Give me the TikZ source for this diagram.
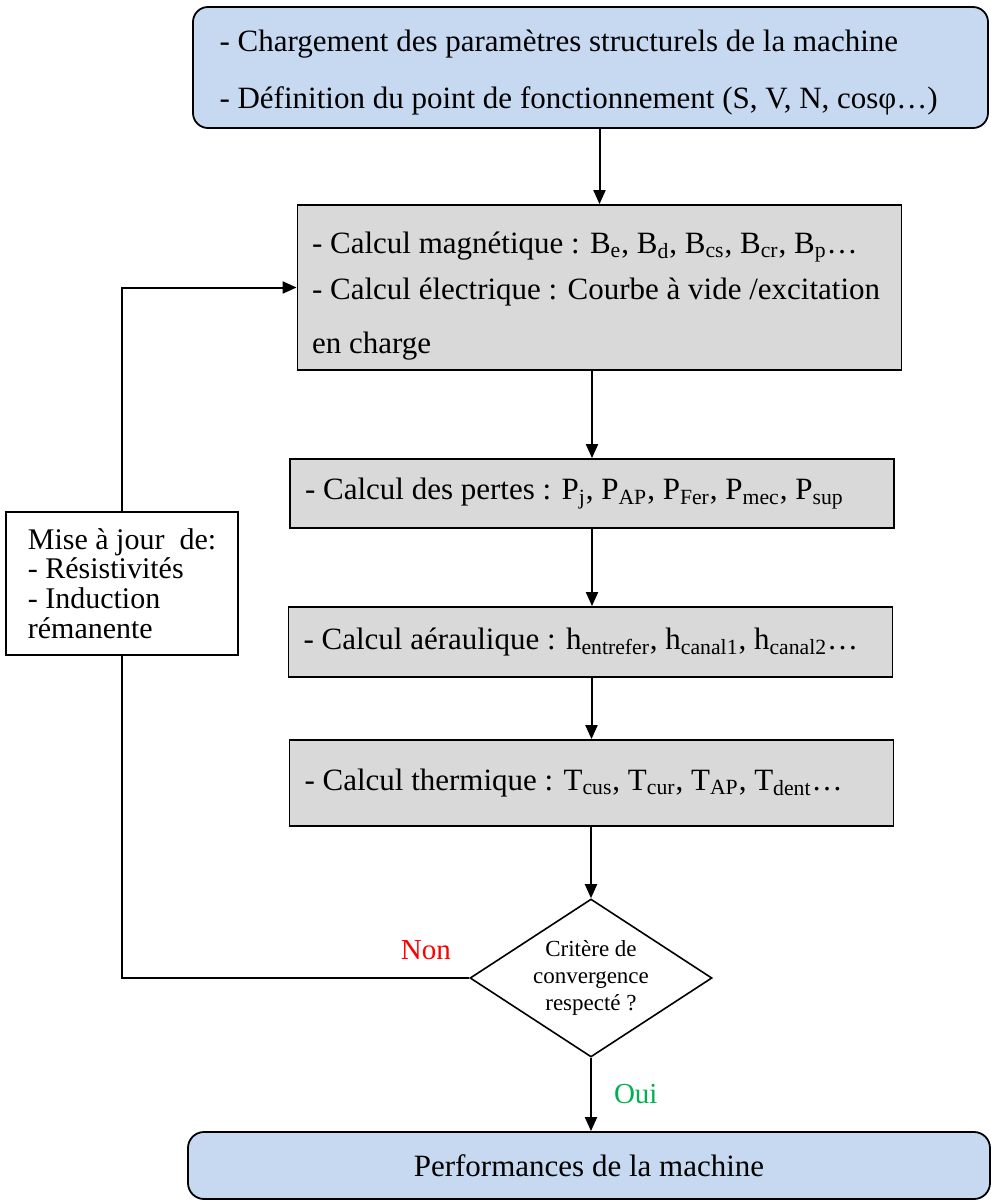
\documentclass[tikz,border=0pt]{standalone}
\usepackage{fontspec}
\setmainfont{Liberation Serif}
\usepackage{tikz}
\usetikzlibrary{arrows.meta, positioning, shapes.geometric}
\definecolor{boxblue}{RGB}{198, 217, 241}
\definecolor{boxgray}{RGB}{217, 217, 217}
\definecolor{nonred}{RGB}{255, 0, 0}
\definecolor{ouigreen}{RGB}{0, 176, 80}

\begin{document}
\begin{tikzpicture}[x=0.5pt, y=-0.5pt,
  calcbox/.style={draw, line width=0.9pt, fill=boxgray, minimum width=302pt,
    inner xsep=7.5pt, text width=287pt, align=flush left,
    font=\fontsize{15.5}{18.5}\selectfont},
  endbox/.style={draw, line width=0.9pt, fill=boxblue, rounded corners=8pt,
    font=\fontsize{15.5}{18.5}\selectfont},
  boxtext/.style={anchor=north west, inner sep=0pt, align=left,
    font=\fontsize{15.5}{18.5}\selectfont},
  flow/.style={-{Triangle[length=7pt, width=6pt]}, line width=1pt},
  loopline/.style={line width=1pt}]
  \useasboundingbox (0,0) rectangle (991,1201);

  % blocs
  \node[endbox, rounded corners=7.5pt, minimum width=397.5pt, minimum height=60.5pt]
    (init) at (590.5,67.5) {};
  \node[boxtext] (inittxt) at ([xshift=13.5pt, yshift=-11.5pt]init.north west)
    {- Chargement des paramètres structurels de la machine\\[10pt]
      - Définition du point de fonctionnement (S, V, N, cosφ…)};
  \node[calcbox, minimum height=82.5pt] (mag) at (599.5,287.5) {};
  \node[boxtext] (magtxt) at ([xshift=7.5pt, yshift=-13.5pt]mag.north west)
    {- Calcul magnétique : B\textsubscript{e}, B\textsubscript{d}, B\textsubscript{cs},
      B\textsubscript{cr}, B\textsubscript{p}…\\[4.5pt]
      - Calcul électrique : Courbe à vide /excitation\\[8.5pt]
      en charge};
  \node[calcbox, minimum height=34.5pt] (pertes) at (592,493.5)
    {- Calcul des pertes : P\textsubscript{j}, P\textsubscript{AP}, P\textsubscript{Fer},
      P\textsubscript{mec}, P\textsubscript{sup}};
  \node[calcbox, minimum height=35pt] (aero) at (590.5,642)
    {- Calcul aéraulique : h\textsubscript{entrefer}, h\textsubscript{canal1},
      h\textsubscript{canal2}…};
  \node[calcbox, minimum height=43pt] (therm) at (591.5,783)
    {- Calcul thermique : T\textsubscript{cus}, T\textsubscript{cur}, T\textsubscript{AP},
      T\textsubscript{dent}…};
  \node[draw, diamond, line width=0.8pt, aspect=1.53, minimum width=121pt,
        minimum height=79pt, inner sep=0pt, align=center,
        font=\fontsize{11.5}{13.5}\selectfont]
    (dec) at (591,978) {Critère de\\convergence\\respecté ?};
  \node[endbox, minimum width=401pt, minimum height=33.5pt] (perf) at (589,1165.5)
    {Performances de la machine};
  \node[draw, line width=0.9pt, fill=white, minimum width=116pt, minimum height=71.5pt,
        align=left, font=\fontsize{15}{14.8}\selectfont]
    (upd) at (122,583.5) {Mise à jour\ \ de:\\- Résistivités\\- Induction\\rémanente};

  % liaisons
  \draw[flow] (init.south -| mag.north) -- (mag.north);
  \draw[flow] (mag.south -| pertes.north) -- (pertes.north);
  \draw[flow] (pertes.south) -- (pertes.south |- aero.north);
  \draw[flow] (aero.south -| therm.north) -- (therm.north);
  \draw[flow] (therm.south -| dec.north) -- (dec.north);
  \draw[flow] (dec.south) -- (dec.south |- perf.north)
    node[midway, right=11pt, inner sep=0pt, text=ouigreen, font=\fontsize{14.5}{17}\selectfont] {Oui};
  \draw[loopline] (dec.west) -| (upd.south);
  \draw[flow] (upd.north) |- (mag.west);
  \node[above left=9pt and 9pt of dec.west, inner sep=0pt, text=nonred,
        font=\fontsize{14.5}{17}\selectfont] (non) {Non};
\end{tikzpicture}
\end{document}
